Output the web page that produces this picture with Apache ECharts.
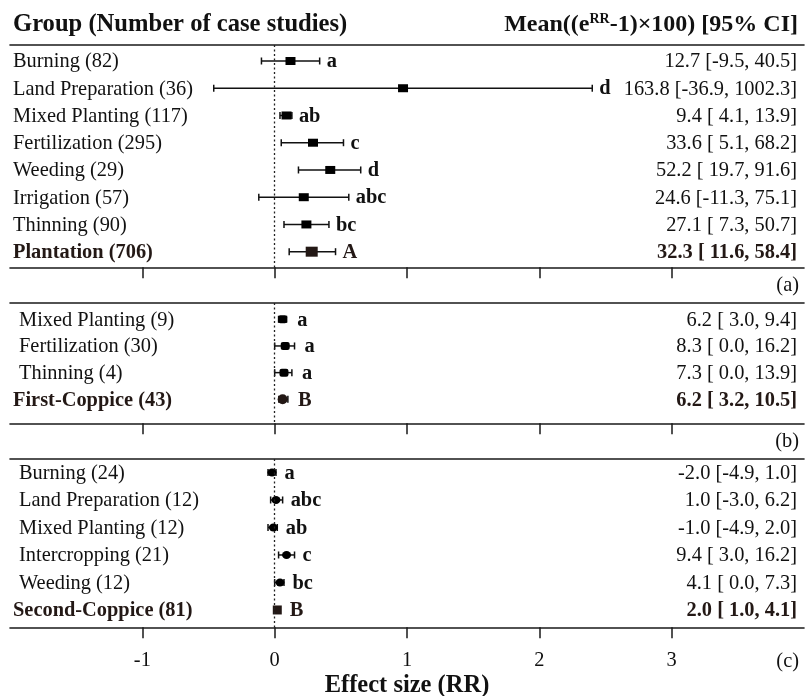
<!DOCTYPE html>
<html><head><meta charset="utf-8">
<script src="https://cdn.jsdelivr.net/npm/echarts@6/dist/echarts.min.js"></script>
<style>html,body{margin:0;padding:0;background:#fff}#c{width:806px;height:696px}</style>
</head><body><div id="c"></div>
<script>
// ---------- DATA ----------
const groupsA  = ['Burning','Land Preparation','Mixed Planting','Fertilization','Weeding','Irrigation','Thinning','Plantation'];
const countsA  = [82, 36, 117, 295, 29, 57, 90, 706];
const meanA    = [12.7, 163.8, 9.4, 33.6, 52.2, 24.6, 27.1, 32.3];
const lowA     = [-9.5, -36.9, 4.1, 5.1, 19.7, -11.3, 7.3, 11.6];
const highA    = [40.5, 1002.3, 13.9, 68.2, 91.6, 75.1, 50.7, 58.4];
const lettersA = ['a','d','ab','c','d','abc','bc','A'];

const groupsB  = ['Mixed Planting','Fertilization','Thinning','First-Coppice'];
const countsB  = [9, 30, 4, 43];
const meanB    = [6.2, 8.3, 7.3, 6.2];
const lowB     = [3.0, 0.0, 0.0, 3.2];
const highB    = [9.4, 16.2, 13.9, 10.5];
const lettersB = ['a','a','a','B'];

const groupsC  = ['Burning','Land Preparation','Mixed Planting','Intercropping','Weeding','Second-Coppice'];
const countsC  = [24, 12, 12, 21, 12, 81];
const meanC    = [-2.0, 1.0, -1.0, 9.4, 4.1, 2.0];
const lowC     = [-4.9, -3.0, -4.9, 3.0, 0.0, 1.0];
const highC    = [1.0, 6.2, 2.0, 16.2, 7.3, 4.1];
const lettersC = ['a','abc','ab','c','bc','B'];

const xTicks = [-1, 0, 1, 2, 3];
const panelTags = ['(a)','(b)','(c)'];

// ---------- HELPERS ----------
const FONT = '"Liberation Serif","Times New Roman",serif';
const XMIN = -2, XMAX = 4;
const INK = '#111';
const SUM = '#231815';
const FS = 20.4;
const toRR = v => Math.log(1 + v / 100);
const ciText = (m, lo, hi) => m.toFixed(1) + ' [' + (lo < 0 ? '' : ' ') + lo.toFixed(1) + ', ' + hi.toFixed(1) + ']';

const panels = [
  {groups: groupsA, counts: countsA, mean: meanA, low: lowA, high: highA, letters: lettersA,
   top: 45, height: 222.3, ymin: -0.587, ymax: 7.573, indent: 0, gap: 7,
   sym: 'rect', size: [10, 8], sumSym: 'rect', sumSize: [12, 10]},
  {groups: groupsB, counts: countsB, mean: meanB, low: lowB, high: highB, letters: lettersB,
   top: 303, height: 120.3, ymin: -0.611, ymax: 3.9, indent: 6, gap: 10,
   sym: 'roundRect', size: [9, 8], sumSym: 'circle', sumSize: [10, 10]},
  {groups: groupsC, counts: countsC, mean: meanC, low: lowC, high: highC, letters: lettersC,
   top: 459, height: 168.3, ymin: -0.49, ymax: 5.63, indent: 6, gap: 8,
   sym: 'circle', size: [9, 8], sumSym: 'rect', sumSize: [9, 9]}
];

const grids = [], xAxes = [], yAxes = [], series = [];
const lineStyle = {color: '#1a1a1a', width: 1.6};

panels.forEach((p, k) => {
  const last = k === panels.length - 1;
  grids.push({left: 10, right: 2, top: p.top, height: p.height, containLabel: false, outerBoundsMode: 'none'});
  // bottom axis (with ticks)
  xAxes.push({
    type: 'value', gridIndex: k, position: 'bottom', min: XMIN, max: XMAX, interval: 1,
    axisLine: {show: true, onZero: false, lineStyle: lineStyle},
    axisTick: {show: true, customValues: xTicks, length: 11, lineStyle: {color: '#1a1a1a', width: 1.5}},
    axisLabel: {show: last, customValues: xTicks, margin: 23, fontFamily: FONT, fontSize: FS, color: INK},
    splitLine: {show: false},
    name: last ? 'Effect size (RR)' : '', nameLocation: 'middle', nameGap: 46,
    nameTextStyle: {fontFamily: FONT, fontSize: 24.5, fontWeight: 'bold', color: INK}
  });
  // top border line
  xAxes.push({
    type: 'value', gridIndex: k, position: 'top', min: XMIN, max: XMAX,
    axisLine: {show: true, onZero: false, lineStyle: lineStyle},
    axisTick: {show: false}, axisLabel: {show: false}, splitLine: {show: false}
  });
  yAxes.push({type: 'value', gridIndex: k, inverse: true, min: p.ymin, max: p.ymax, show: false});

  const n = p.groups.length;
  const halfFor = i => ((i === n - 1 ? p.sumSize : p.size)[0]) / 2;

  series.push({
    type: 'custom', xAxisIndex: 2 * k, yAxisIndex: k, z: 2, silent: true,
    encode: {x: [1, 2, 3], y: 0},
    data: p.mean.map((m, i) => [i, toRR(p.low[i]), toRR(p.high[i]), toRR(m)]),
    renderItem: function (params, api) {
      const i = params.dataIndex;
      const row = api.value(0);
      const lo = api.coord([api.value(1), row]);
      const hi = api.coord([api.value(2), row]);
      const mid = api.coord([api.value(3), row]);
      const left = api.coord([XMIN, row]);
      const right = api.coord([XMAX, row]);
      const y = lo[1];
      const isSum = i === n - 1;
      const col = isSum ? SUM : INK;
      const st = {stroke: INK, lineWidth: 1.5};
      const cap = 3.5;
      const letterX = Math.max(hi[0], mid[0] + halfFor(i)) + p.gap;
      return {type: 'group', children: [
        {type: 'line', shape: {x1: lo[0], y1: y, x2: hi[0], y2: y}, style: st},
        {type: 'line', shape: {x1: lo[0], y1: y - cap, x2: lo[0], y2: y + cap}, style: st},
        {type: 'line', shape: {x1: hi[0], y1: y - cap, x2: hi[0], y2: y + cap}, style: st},
        {type: 'text', x: letterX, y: y + 1, style: {text: p.letters[i], fill: col,
          fontFamily: FONT, fontSize: FS, fontWeight: 'bold', align: 'left', verticalAlign: 'middle'}},
        {type: 'text', x: left[0] + 3 + (isSum ? 0 : p.indent), y: y + 1, style: {
          text: p.groups[i] + ' (' + p.counts[i] + ')', fill: col, fontFamily: FONT, fontSize: FS,
          fontWeight: isSum ? 'bold' : 'normal', align: 'left', verticalAlign: 'middle'}},
        {type: 'text', x: right[0] - 7, y: y + 1, style: {
          text: ciText(p.mean[i], p.low[i], p.high[i]), fill: col, fontFamily: FONT, fontSize: FS,
          fontWeight: isSum ? 'bold' : 'normal', align: 'right', verticalAlign: 'middle'}}
      ]};
    }
  });

  series.push({
    type: 'scatter', xAxisIndex: 2 * k, yAxisIndex: k, z: 3, silent: true,
    data: p.mean.map((m, i) => {
      const isSum = i === n - 1;
      return {value: [toRR(m), i], symbol: isSum ? p.sumSym : p.sym,
        symbolSize: isSum ? p.sumSize : p.size, itemStyle: {color: isSum ? SUM : '#000', opacity: 1}};
    }),
    markLine: {silent: true, symbol: 'none', label: {show: false},
      lineStyle: {type: [2, 2.5], color: '#222', width: 1.3}, data: [{xAxis: 0}]}
  });
});

const titles = [
  {text: 'Group (Number of case studies)', left: 13, top: 12, padding: 0,
   textStyle: {fontFamily: FONT, fontSize: 24.6, fontWeight: 'bold', color: INK}},
  {text: '{n|Mean((e}{s|RR}{n|-1)×100) [95% CI]}', right: 8, top: 12, padding: 0,
   textStyle: {rich: {
     n: {fontFamily: FONT, fontSize: 24, fontWeight: 'bold', color: INK, lineHeight: 26},
     s: {fontFamily: FONT, fontSize: 14, color: INK, verticalAlign: 'top', lineHeight: 26, padding: [0, 0, 10, 0]}
   }}}
];
const tagTops = [276, 432, 652];
panelTags.forEach((t, k) => titles.push({text: t, right: 7, top: tagTops[k], padding: 0,
  textStyle: {fontFamily: FONT, fontSize: FS, fontWeight: 'normal', color: INK}}));

const chart = echarts.init(document.getElementById('c'), null, {renderer: 'canvas'});
chart.setOption({
  animation: false,
  backgroundColor: '#fff',
  title: titles,
  grid: grids,
  xAxis: xAxes,
  yAxis: yAxes,
  series: series
});
</script></body></html>
